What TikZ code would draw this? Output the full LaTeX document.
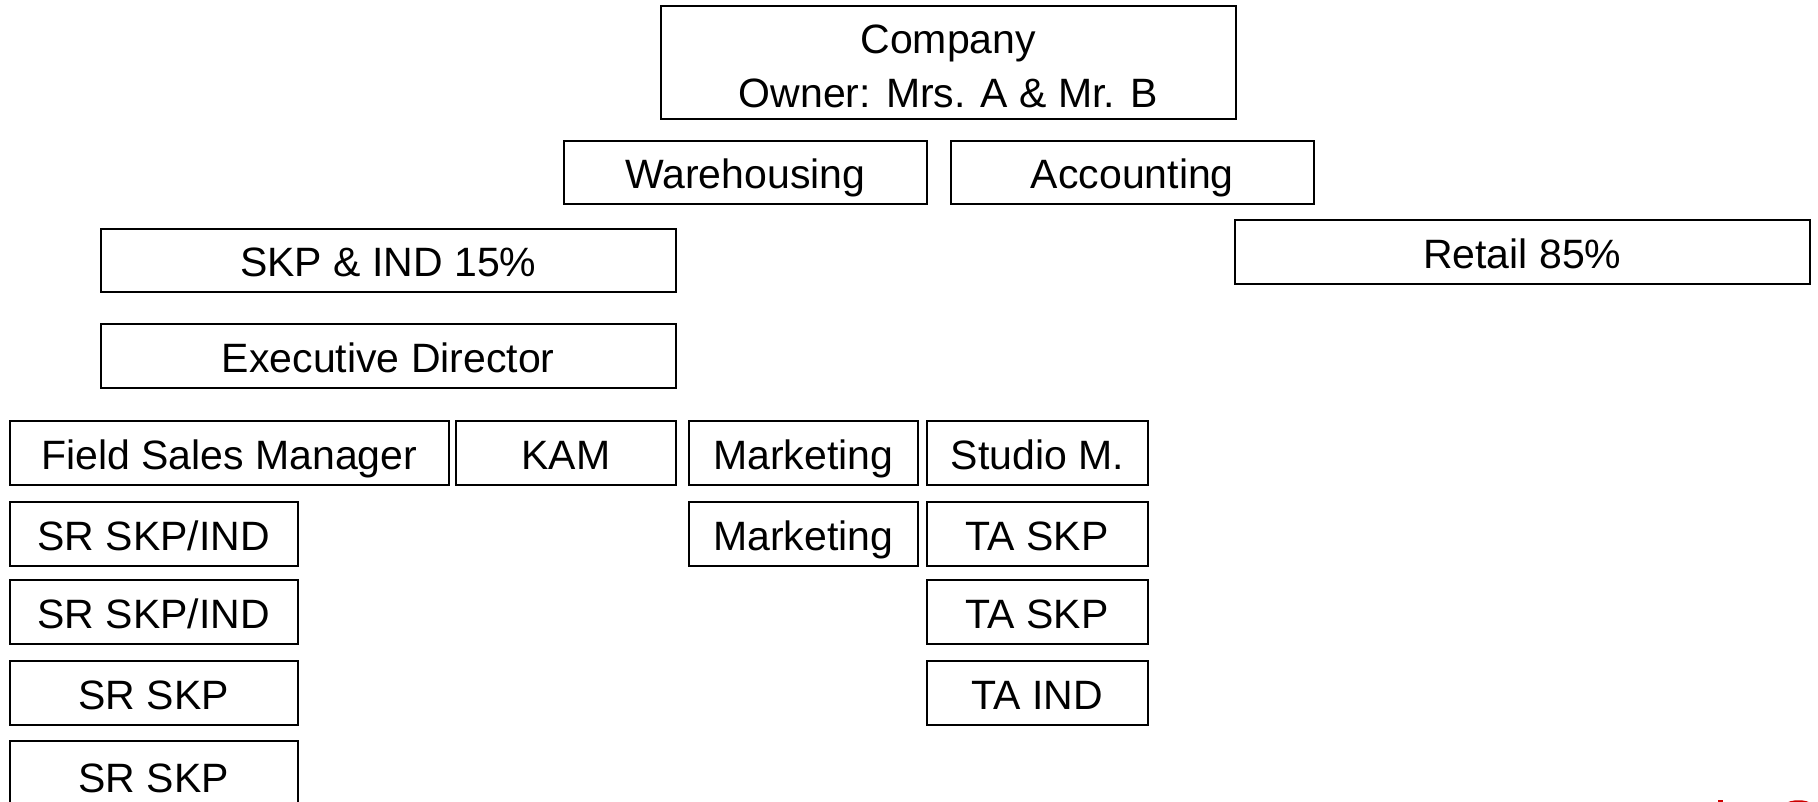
\documentclass[tikz,border=0pt]{standalone}
\usepackage{fontspec}
\setmainfont{Liberation Sans}
\begin{document}
\begin{tikzpicture}[x=1pt,y=-1pt,
  box/.style={draw=black, line width=1.6pt, fill=white, inner sep=0pt, anchor=north west,
    font=\fontsize{41}{54}\selectfont, align=center, text height=33pt, text depth=0pt}]
\useasboundingbox (0,0) rectangle (1818,802);
\fill[white] (0,0) rectangle (1818,802);
\clip (0,0) rectangle (1818,802);
\newcommand{\orgbox}[7][]{\node[box, minimum width=#5-#3, minimum height=#6-#4, #1] (#2) at (#3,#4) {#7};}
\orgbox[text height=91pt, text depth=0pt]{company}{660}{5}{1235}{118}{Company\\Owner: Mrs. A \& Mr. B}
\orgbox{wh}{563}{140}{926}{203}{Warehousing}
\orgbox{acc}{950}{140}{1313}{203}{Accounting}
\orgbox{retail}{1234}{219}{1809}{283}{Retail 85\%}
\orgbox{skp}{100}{228}{675}{291}{SKP \& IND 15\%}
\orgbox{exec}{100}{323}{675}{387}{Executive Director}
\orgbox{fsm}{9}{420}{448}{484}{Field Sales Manager}
\orgbox{kam}{455}{420}{675}{484}{KAM}
\orgbox{mkta}{688}{420}{917}{484}{Marketing}
\orgbox{studio}{926}{420}{1147}{484}{Studio M.}
\orgbox{sra}{9}{501}{297}{565}{SR SKP/IND}
\orgbox{mktb}{688}{501}{917}{565}{Marketing}
\orgbox{taa}{926}{501}{1147}{565}{TA SKP}
\orgbox{srb}{9}{579}{297}{643}{SR SKP/IND}
\orgbox{tab}{926}{579}{1147}{643}{TA SKP}
\orgbox{src}{9}{660}{297}{724}{SR SKP}
\orgbox{tac}{926}{660}{1147}{724}{TA IND}
\orgbox{srd}{9}{740}{297}{810}{SR SKP}
% partial red logo at the bottom edge
\fill[red!80!black] (1718,800) rectangle (1723,804);
\fill[red!80!black] (1785,804) .. controls (1790,799) and (1807,799) .. (1812,804) -- cycle;
\end{tikzpicture}
\end{document}
